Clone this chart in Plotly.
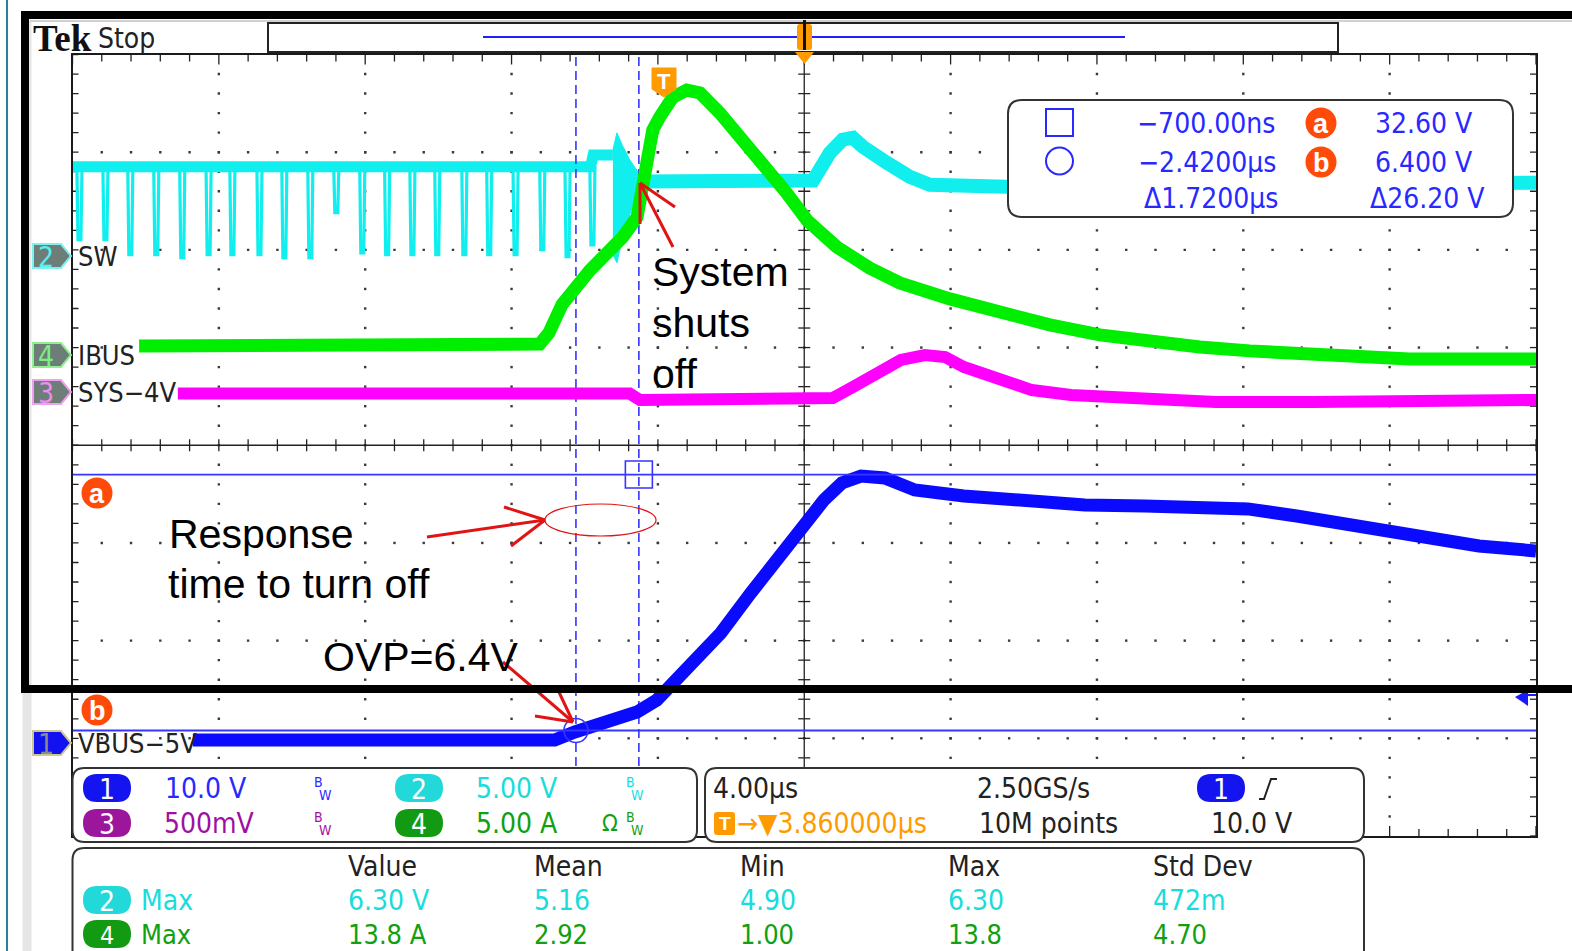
import plotly.graph_objects as go

# ---------------- data ----------------
# time: microseconds relative to the trigger point
HPOS_US = 3.82            # screen centre relative to trigger (µs)
TIME_DIV_US = 4.0         # 4.00 µs/div, 10 divisions

# channel vertical settings: scale per div, offset, marker position (div)
CH1 = dict(scale=10.0, offset=5.0, pos=-3.06)   # VBUS-5V
CH2 = dict(scale=5.0, offset=0.0, pos=1.94)     # SW
CH3 = dict(scale=0.5, offset=4.0, pos=0.545)    # SYS-4V
CH4 = dict(scale=5.0, offset=0.0, pos=0.92)     # IBUS (A)

# SW (ch2), volts relative to its reference marker
SW_HIGH_T = [-16.18, -2.02, -1.95, -1.41]
SW_HIGH_V = [4.55, 4.55, 5.15, 5.15]
SW_PULSE_T = [-16.06, -15.35, -14.67, -13.96, -13.25, -12.53, -11.88, -11.14,
              -10.46, -9.75, -9.04, -8.33, -7.65, -6.96, -6.28, -5.54, -4.86,
              -4.14, -3.41, -2.72, -2.04]
SW_PULSE_LOW = [0.82, 0.82, 0.05, 0.05, -0.10, 0.05, 0.05, 0.05, -0.10, -0.10,
                2.20, 0.15, 0.05, 0.05, 0.05, 0.05, 0.05, 0.05, 0.31, -0.05, 0.56]
SW_BURST_T = [-1.41, -1.30, -1.16, -0.95, -0.67, -0.67, -0.95, -1.16, -1.30, -1.41]
SW_BURST_V = [5.42, 6.29, 5.68, 4.91, 4.15, 3.58, 2.10, 0.82, -0.36, 0.05]
SW_AFTER_T = [-0.67, 3.84, 4.06, 4.52, 4.87, 5.15, 5.42, 6.08, 6.70, 7.25, 9.36, 23.82]
SW_AFTER_V = [3.80, 3.80, 3.85, 5.27, 5.94, 6.04, 5.58, 4.76, 4.04, 3.63, 3.53, 3.74]

# IBUS (ch4), amps
IBUS_T = [-14.36, -3.54, -3.41, -3.16, -2.80, -2.04, -1.57, -1.14, -0.75, -0.62,
          -0.48, -0.32, -0.13, 0.23, 0.61, 0.97, 1.51, 2.41, 3.34, 3.89, 4.71,
          5.61, 6.43, 7.80, 9.16, 10.53, 11.90, 13.26, 14.63, 16.00, 17.72, 20.37, 23.82]
IBUS_A = [0.48, 0.48, 0.58, 1.15, 2.60, 4.35, 5.25, 6.06, 7.08, 8.62, 10.00,
          11.54, 12.20, 13.22, 13.58, 13.43, 12.41, 10.51, 8.31, 6.93, 5.55,
          4.47, 3.71, 2.89, 2.17, 1.56, 1.05, 0.69, 0.43, 0.23, 0.02, -0.18, -0.18]

# SYS (ch3), volts
SYS_T = [-13.30, -0.95, -0.67, 3.84, 4.60, 5.15, 5.80, 6.46, 7.12, 7.67, 8.18,
         8.98, 10.04, 11.11, 13.76, 15.07, 17.72, 23.82]
SYS_V = [3.992, 3.992, 3.959, 3.959, 3.969, 4.026, 4.097, 4.164, 4.189, 4.179,
         4.128, 4.077, 4.010, 3.985, 3.969, 3.949, 3.949, 3.959]

# VBUS (ch1), volts
VBUS_T = [-12.89, -3.00, -2.45, -1.77, -0.75, -0.21, 0.20, 0.72, 1.54, 2.36, 3.21,
          3.86, 4.36, 4.85, 5.37, 6.02, 6.84, 8.18, 9.82, 11.49, 13.13, 14.80,
          15.94, 17.28, 18.95, 20.59, 22.26, 23.82]
VBUS_V = [5.43, 5.43, 6.25, 6.97, 8.30, 9.52, 11.16, 12.90, 16.38, 20.48, 24.57,
          27.95, 30.00, 31.74, 32.45, 32.25, 31.02, 30.41, 29.90, 29.49, 29.39,
          29.39, 29.08, 28.36, 27.24, 26.21, 25.29, 24.78]

# cursors
CUR_T = [-0.70, -2.42]      # square, circle (µs)
CUR_V = [32.60, 6.40]       # a, b (V on ch1)

MEAS_HEAD = ["Value", "Mean", "Min", "Max", "Std Dev"]
MEAS_CH2 = ["6.30 V", "5.16", "4.90", "6.30", "472m"]
MEAS_CH4 = ["13.8 A", "2.92", "1.00", "13.8", "4.70"]

# ---------------- styling / layout ----------------
W, H = 1572, 951
GX0, GX1, GY0, GY1 = 72.5, 1536.0, 54.5, 836.0
XR = [HPOS_US - 5 * TIME_DIV_US, HPOS_US + 5 * TIME_DIV_US]
YR = [-4, 4]
PXX = (XR[1] - XR[0]) / (GX1 - GX0)
PXY = 8.0 / (GY1 - GY0)

TEK = "DejaVu Sans Condensed, DejaVu Sans, sans-serif"
ARIAL = "Liberation Sans, Arial, sans-serif"
C_CYAN, C_GREEN, C_MAG, C_BLUE = "#11eeee", "#00ee00", "#ff00ff", "#0a0aff"
T_BLUE, T_CYAN, T_GREEN, T_PURP, T_ORNG = "#2828ff", "#19dcdc", "#11a011", "#a010a0", "#ff9a00"
C_AB = "#ff4a0a"
C_CUR = "#3535ff"
RED = "#e01414"


def d(vals, ch):
    return [None if v is None else ch["pos"] + (v - ch["offset"]) / ch["scale"] for v in vals]


fig = go.Figure()

# graticule dots
gx, gy = [], []
for k in range(1, 10):
    if k == 5:
        continue
    for j in range(1, 40):
        gx.append(XR[0] + k * TIME_DIV_US); gy.append(-4 + 0.2 * j)
for k in [-3, -2, -1, 1, 2, 3]:
    for j in range(1, 50):
        gx.append(XR[0] + 0.8 * j); gy.append(k)
fig.add_trace(go.Scatter(x=gx, y=gy, mode="markers", hoverinfo="skip",
                         marker=dict(size=2.4, color="#3a3a3a", symbol="square")))

# centre lines and ticks
tx, ty = [XR[0], XR[1], None, HPOS_US, HPOS_US, None], [0, 0, None, -4, 4, None]
for j in range(51):
    x = XR[0] + 0.8 * j
    tl = 10 if j % 5 == 0 else 7
    tx += [x, x, None, x, x, None, x, x, None]
    ty += [-6 * PXY, 6 * PXY, None, 4, 4 - tl * PXY, None, -4, -4 + tl * PXY, None]
for j in range(41):
    y = -4 + 0.2 * j
    tx += [HPOS_US - 6 * PXX, HPOS_US + 6 * PXX, None, XR[0], XR[0] + 6 * PXX, None,
           XR[1], XR[1] - 6 * PXX, None]
    ty += [y, y, None, y, y, None, y, y, None]
fig.add_trace(go.Scatter(x=tx, y=ty, mode="lines", hoverinfo="skip",
                         line=dict(color="#222", width=1.3)))

# SW trace
fig.add_trace(go.Scatter(x=SW_HIGH_T, y=d(SW_HIGH_V, CH2), mode="lines", hoverinfo="skip",
                         line=dict(color=C_CYAN, width=11)))
px_, py_ = [], []
for t0, lo in zip(SW_PULSE_T, SW_PULSE_LOW):
    px_ += [t0, t0 + 0.03, t0 + 0.11, t0 + 0.14, None]
    py_ += [SW_HIGH_V[0], lo, lo, SW_HIGH_V[0], None]
fig.add_trace(go.Scatter(x=px_, y=d(py_, CH2), mode="lines", hoverinfo="skip",
                         line=dict(color=C_CYAN, width=3.2)))
fig.add_trace(go.Scatter(x=SW_BURST_T, y=d(SW_BURST_V, CH2), mode="lines", fill="toself",
                         fillcolor=C_CYAN, hoverinfo="skip", line=dict(color=C_CYAN, width=1)))
fig.add_trace(go.Scatter(x=SW_AFTER_T, y=d(SW_AFTER_V, CH2), mode="lines", hoverinfo="skip",
                         line=dict(color=C_CYAN, width=14)))

# vertical cursors
for t in CUR_T:
    fig.add_trace(go.Scatter(x=[t, t], y=[-4, 4], mode="lines", hoverinfo="skip",
                             line=dict(color=C_CUR, width=1.6, dash="9px,5px")))

fig.add_trace(go.Scatter(x=SYS_T, y=d(SYS_V, CH3), mode="lines", hoverinfo="skip",
                         line=dict(color=C_MAG, width=12)))
fig.add_trace(go.Scatter(x=IBUS_T, y=d(IBUS_A, CH4), mode="lines", hoverinfo="skip",
                         line=dict(color=C_GREEN, width=13)))
fig.add_trace(go.Scatter(x=VBUS_T, y=d(VBUS_V, CH1), mode="lines", hoverinfo="skip",
                         line=dict(color=C_BLUE, width=13)))

# horizontal cursors
for v in CUR_V:
    fig.add_trace(go.Scatter(x=XR, y=d([v, v], CH1), mode="lines", hoverinfo="skip",
                             line=dict(color=C_CUR, width=1.8)))
fig.add_trace(go.Scatter(x=[CUR_T[0]], y=d([CUR_V[0]], CH1), mode="markers", hoverinfo="skip",
                         marker=dict(symbol="square-open", size=27, color=C_CUR, line=dict(width=1.6))))
fig.add_trace(go.Scatter(x=[CUR_T[1]], y=d([CUR_V[1]], CH1), mode="markers", hoverinfo="skip",
                         marker=dict(symbol="circle-open", size=24, color=C_CUR, line=dict(width=1.6))))

# dummy trace for the pixel overlay axes
fig.add_trace(go.Scatter(x=[0], y=[0], xaxis="x2", yaxis="y2", mode="markers",
                         marker=dict(opacity=0), hoverinfo="skip"))

# ---------------- overlay (pixel space) ----------------
SH, ANN = [], []


def shp(**kw):
    base = dict(xref="x2", yref="y2", layer="above")
    base.update(kw)
    SH.append(base)


def line(x0, y0, x1, y1, color, w, dash=None):
    shp(type="line", x0=x0, y0=y0, x1=x1, y1=y1, line=dict(color=color, width=w, dash=dash))


def path(dd, fill="rgba(0,0,0,0)", color="rgba(0,0,0,0)", w=0):
    shp(type="path", path=dd, fillcolor=fill, line=dict(color=color, width=w))


def rrect(x0, y0, x1, y1, r):
    return (f"M{x0+r},{y0} L{x1-r},{y0} Q{x1},{y0} {x1},{y0+r} L{x1},{y1-r} "
            f"Q{x1},{y1} {x1-r},{y1} L{x0+r},{y1} Q{x0},{y1} {x0},{y1-r} "
            f"L{x0},{y0+r} Q{x0},{y0} {x0+r},{y0} Z")


def circ(cx, cy, rx, ry, fill, color="rgba(0,0,0,0)", w=0):
    shp(type="circle", x0=cx - rx, y0=cy - ry, x1=cx + rx, y1=cy + ry, fillcolor=fill,
        line=dict(color=color, width=w))


def txt(x, y, s, size=27, color="#000", anchor="left", family=TEK, ya="middle"):
    ANN.append(dict(x=x, y=y, xref="x2", yref="y2", text=s, showarrow=False,
                    xanchor=anchor, yanchor=ya, font=dict(family=family, size=size, color=color)))


def abmark(cx, cy, ch):
    circ(cx, cy, 15.5, 15.5, C_AB)
    txt(cx, cy + 1, f"<b>{ch}</b>", 27, "white", anchor="center", family=ARIAL)


# page borders
line(27, 20, 27, 951, "#e6e6e6", 9)
line(7, 0, 7, 951, "#2b7f99", 2)
line(30, 21, 1572, 21, "#d0d0d0", 2)

# top bar
txt(31, 38, "<b>Tek</b>", 37, "#111", family="Liberation Serif, serif")
txt(96, 38, "Stop", 28, "#222")
shp(type="rect", x0=268, y0=23, x1=1338, y1=52, line=dict(color="#222", width=2), fillcolor="white")
line(483, 37, 1125, 37, "#2020ff", 2)
path(rrect(797, 24, 812, 50, 3), fill="#ff9a00")
line(804.5, 20, 804.5, 50, "#111", 3)
path("M795,52 L814,52 L804.5,64 Z", fill="#ff9a00")

# trigger T marker
path("M652,68 L676,68 L676,89 L664,97 L652,89 Z", fill="#ff9a00", color="#ff9a00", w=1)
txt(664, 81, "<b>T</b>", 22, "white", anchor="center", family=ARIAL)

# channel markers on the left
for y, digit, fill, edge, dcol in [(256, "2", "#6d7d78", "#7ff0f0", "#55f0f0"),
                                   (355, "4", "#6d7d78", "#8ff08f", "#7cf07c"),
                                   (392, "3", "#6d7d78", "#f0a0f0", "#f08cf0"),
                                   (743, "1", "#1212f0", "#c8c890", "#8a8a8a")]:
    path(f"M33,{y-12} L61,{y-12} L71,{y} L61,{y+12} L33,{y+12} Z", fill=fill, color=edge, w=2)
    txt(46, y + 1, digit, 28, dcol, anchor="center")
for y, lab in [(256, "SW"), (355, "IBUS"), (392, "SYS−4V"), (743, "VBUS−5V")]:
    txt(76, y, lab, 27, "#222")

# right reference arrow
path("M1515,697 L1528,690 L1528,706 Z", fill="#1a1aff")
line(1520, 695, 1536, 695, "#1a1aff", 2)

# cursor labels a/b on the graticule
abmark(97, 493, "a")
abmark(97, 710, "b")

# cursor readout box
path(rrect(1008, 100, 1513, 217, 14), fill="white", color="#333", w=2)
shp(type="rect", x0=1046, y0=109, x1=1073, y1=136, line=dict(color=T_BLUE, width=2))
circ(1059.5, 161, 13.5, 13.5, "rgba(0,0,0,0)", T_BLUE, 2)
abmark(1321, 123, "a")
abmark(1321, 162, "b")
dt_ns = CUR_T[0] * 1000
txt(1277, 123, f"−{abs(dt_ns):.2f}ns", 28, T_BLUE, anchor="right")
txt(1278, 162, f"−{abs(CUR_T[1]):.4f}µs", 28, T_BLUE, anchor="right")
txt(1281, 198, f"Δ{CUR_T[0]-CUR_T[1]:.4f}µs", 28, T_BLUE, anchor="right")
txt(1475, 123, f"{CUR_V[0]:.2f} V", 28, T_BLUE, anchor="right")
txt(1475, 162, f"{CUR_V[1]:.3f} V", 28, T_BLUE, anchor="right")
txt(1487, 198, f"Δ{CUR_V[0]-CUR_V[1]:.2f} V", 28, T_BLUE, anchor="right")

# bottom boxes
path(rrect(72.5, 768, 697, 842, 12), fill="white", color="#333", w=2)
path(rrect(705, 768, 1364, 842, 12), fill="white", color="#333", w=2)
path(rrect(72.5, 848, 1364, 975, 12), fill="white", color="#333", w=2)


def pill(x0, y, color, digit, size=28):
    path(rrect(x0, y - 14, x0 + 48, y + 14, 14), fill=color)
    txt(x0 + 24, y + 1, digit, size, "white", anchor="center")


def bw(x, y, color):
    txt(x, y - 6, "B", 14, color, anchor="center")
    txt(x + 7, y + 7, "W", 14, color, anchor="center")


pill(83, 788, "#1414f0", "1"); txt(163, 788, "10.0 V", 28, T_BLUE); bw(318, 788, T_BLUE)
pill(395, 788, "#22d8d8", "2"); txt(474, 788, "5.00 V", 28, T_CYAN); bw(630, 788, T_CYAN)
pill(83, 823, "#9c169c", "3"); txt(162, 823, "500mV", 28, T_PURP); bw(318, 823, T_PURP)
pill(395, 823, "#129a12", "4"); txt(474, 823, "5.00 A", 28, T_GREEN)
txt(600, 823, "Ω", 23, T_GREEN); bw(630, 823, T_GREEN)

txt(711, 788, "4.00µs", 28, "#222")
txt(975, 788, "2.50GS/s", 28, "#222")
pill(1197, 788, "#1414f0", "1")
path("M1259,799 L1264,799 L1271,779 L1277,779", color="#222", w=2)
path(rrect(714, 812, 735, 835, 3), fill="#ff9a00")
txt(724.5, 823.5, "<b>T</b>", 19, "white", anchor="center", family=ARIAL)
txt(735, 823, f"→▼{HPOS_US + 0.04:.6f}µs", 28, T_ORNG)
txt(977, 823, "10M points", 28, "#222")
txt(1209, 823, "10.0 V", 28, "#222")

COLX = [346, 532, 738, 946, 1151]
for x, h in zip(COLX, MEAS_HEAD):
    txt(x, 866, h, 28, "#222")
pill(83, 900, "#22d8d8", "2"); txt(139, 900, "Max", 28, T_CYAN)
pill(83, 934, "#129a12", "4", 25); txt(139, 934, "Max", 27, T_GREEN)
for x, v in zip(COLX, MEAS_CH2):
    txt(x, 900, v, 28, T_CYAN)
for x, v in zip(COLX, MEAS_CH4):
    txt(x, 934, v, 27, T_GREEN)

# hand-drawn annotations
shp(type="circle", x0=545, y0=504, x1=656, y1=536, line=dict(color=RED, width=1.2))
for seg in [(427, 537, 545, 520), (504, 507, 545, 520), (511, 546, 545, 520),
            (673, 247, 640, 183), (675, 207, 640, 183), (640, 224, 640, 183),
            (503, 662, 573, 722), (535, 716, 573, 722), (558, 690, 573, 722)]:
    line(*seg, RED, 3)
txt(650, 272, "System", 41, "#000", family=ARIAL)
txt(650, 323, "shuts", 41, "#000", family=ARIAL)
txt(650, 374, "off", 41, "#000", family=ARIAL)
txt(167, 534, "Response", 41, "#000", family=ARIAL)
txt(166, 584, "time to turn off", 41, "#000", family=ARIAL)
txt(321, 657, "OVP=6.4V", 41, "#000", family=ARIAL)

# thick black frame
shp(type="rect", x0=25, y0=15, x1=1620, y1=689, line=dict(color="#000", width=8))

fig.update_layout(
    width=W, height=H, autosize=False,
    margin=dict(l=0, r=0, t=0, b=0, pad=0),
    paper_bgcolor="white", plot_bgcolor="rgba(0,0,0,0)",
    showlegend=False,
    xaxis=dict(domain=[GX0 / W, GX1 / W], range=XR, showgrid=False, zeroline=False,
               showticklabels=False, ticks="", showline=True, mirror=True,
               linecolor="#1a1a1a", linewidth=2, fixedrange=True),
    yaxis=dict(domain=[1 - GY1 / H, 1 - GY0 / H], range=YR, showgrid=False, zeroline=False,
               showticklabels=False, ticks="", showline=True, mirror=True,
               linecolor="#1a1a1a", linewidth=2, fixedrange=True),
    xaxis2=dict(domain=[0, 1], range=[0, W], visible=False, anchor="y2", fixedrange=True),
    yaxis2=dict(domain=[0, 1], range=[H, 0], visible=False, anchor="x2", fixedrange=True),
    shapes=SH, annotations=ANN,
)

fig.write_html("out.html", config={"displayModeBar": False},
               post_script="document.body.style.margin='0px';document.body.style.overflow='hidden';")
